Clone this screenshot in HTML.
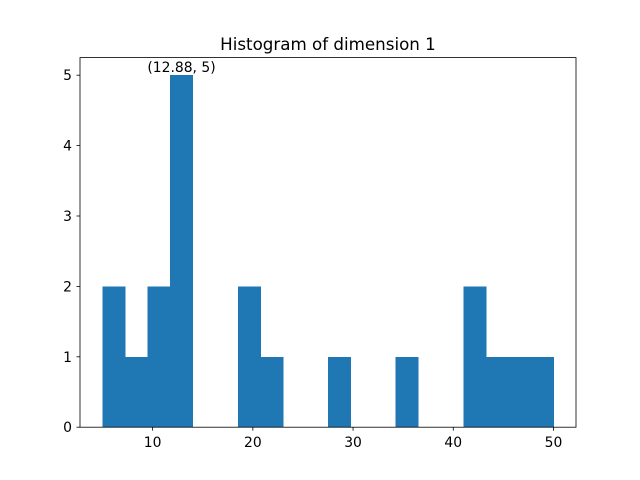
<!DOCTYPE html>
<html><head><meta charset="utf-8"><style>body{margin:0;background:#fff}svg{display:block;font-family:"DejaVu Sans","Liberation Sans",sans-serif}</style></head>
<body>
<svg id="chart" width="640" height="480" viewBox="0 0 640 480">
<rect width="640" height="480" fill="#fff"/>
<text x="328" y="50" font-size="16.7" text-anchor="middle">Histogram of dimension 1</text>
<g id="bars" shape-rendering="crispEdges"></g><g id="ticks"></g>
<rect x="80" y="57.6" width="496" height="369.6" fill="none" stroke="#000" stroke-width="0.8"/>
</svg>
<script>
const binEdges=[5,7.25,9.5,11.75,14,16.25,18.5,20.75,23,25.25,27.5,29.75,32,34.25,36.5,38.75,41,43.25,45.5,47.75,50];
const counts=[2,1,2,5,0,0,2,1,0,0,1,0,0,1,0,0,2,1,1,1];
const xTicks=[10,20,30,40,50];
const yTicks=[0,1,2,3,4,5];
const annX=12.88, annY=5, annLabel="(12.88, 5)";
const ns="http://www.w3.org/2000/svg";
const x=v=>80+(v-2.75)/49.5*496;
const y=v=>427.2-v/5.25*369.6;
const bars=document.getElementById('bars'),ticks=document.getElementById('ticks'),svg=document.getElementById('chart');
function mk(t,a,p){const e=document.createElementNS(ns,t);for(const k in a)e.setAttribute(k,a[k]);p.appendChild(e);return e;}
counts.forEach((c,i)=>{if(!c)return;const r=mk('rect',{x:x(binEdges[i]),y:y(c),width:x(binEdges[i+1])-x(binEdges[i])+0.5,height:y(0)-y(c),fill:'#1f77b4'},bars);

});
xTicks.forEach(v=>{const g=mk('g',{},ticks);


mk('line',{x1:x(v),x2:x(v),y1:427.2,y2:430.7,stroke:'#000','stroke-width':0.8},g);
const t=mk('text',{x:x(v),y:447,'font-size':13.9,'text-anchor':'middle'},g);t.textContent=v;});
yTicks.forEach(v=>{const g=mk('g',{},ticks);


mk('line',{x1:76.5,x2:80,y1:y(v),y2:y(v),stroke:'#000','stroke-width':0.8},g);
const t=mk('text',{x:72,y:y(v)+5,'font-size':13.9,'text-anchor':'end'},g);t.textContent=v;});
const a=mk('text',{x:x(annX),y:y(annY)-3,'font-size':13.9,'text-anchor':'middle'},svg);a.textContent=annLabel;


</script>
</body></html>
